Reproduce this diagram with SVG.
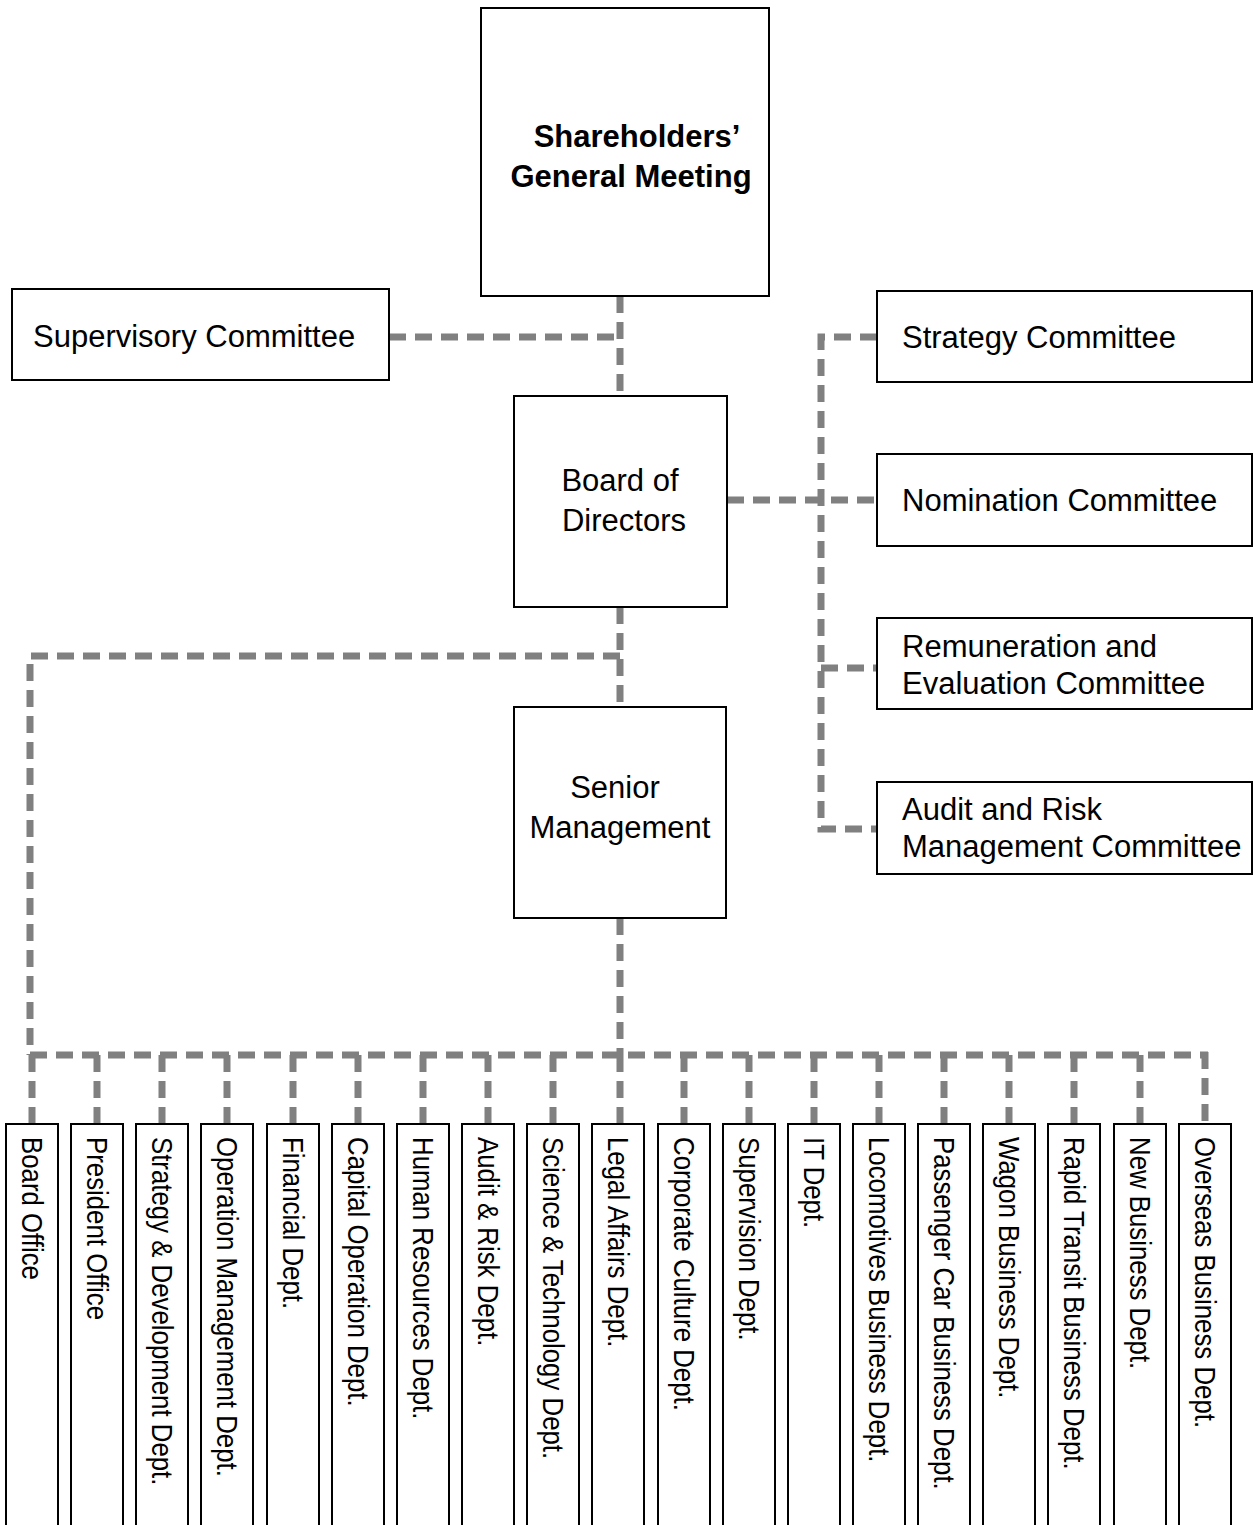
<svg xmlns="http://www.w3.org/2000/svg" width="1253" height="1525" viewBox="0 0 1253 1525">
<style>
.box{fill:#fff;stroke:#000;stroke-width:2}
.t{font-family:"Liberation Sans",Arial,sans-serif;font-size:31px;fill:#000}
.b{font-weight:bold}
.v{font-family:"Liberation Sans",Arial,sans-serif;font-size:29px;fill:#000}
.c{fill:none;stroke:#808080;stroke-width:7;stroke-dasharray:17 9}
</style>
<rect width="1253" height="1525" fill="#fff"/>
<g id="connectors">
<path class="c" d="M620,296 V396"/>
<path class="c" d="M389,337 H620"/>
<path class="c" d="M727,500 H877"/>
<path class="c" d="M877,337 H821 V829 H877"/>
<path class="c" d="M821,668 H877"/>
<path class="c" d="M620,607 V707"/>
<path class="c" d="M620,656 H30 V1055"/>
<path class="c" d="M620,918 V1055"/>
<path class="c" d="M30,1055 H1208"/>
<path class="c" d="M32,1055 V1124 M97,1055 V1124 M162,1055 V1124 M227,1055 V1124 M293,1055 V1124 M358,1055 V1124 M423,1055 V1124 M488,1055 V1124 M553,1055 V1124 M620,1055 V1124 M684,1055 V1124 M749,1055 V1124 M814,1055 V1124 M879,1055 V1124 M944,1055 V1124 M1009,1055 V1124 M1074,1055 V1124 M1140,1055 V1124 M1205,1052 V1124"/>
</g>
<g id="shareholders"><rect class="box" x="481" y="8" width="288" height="288"/>
<text class="t b" text-anchor="middle"><tspan x="637" y="147">Shareholders’</tspan><tspan x="631" y="187">General Meeting</tspan></text></g>
<g id="supervisory"><rect class="box" x="12" y="289" width="377" height="91"/>
<text class="t" x="33" y="347">Supervisory Committee</text></g>
<g id="board"><rect class="box" x="514" y="396" width="213" height="211"/>
<text class="t" text-anchor="middle"><tspan x="620" y="491">Board of</tspan><tspan x="624" y="531">Directors</tspan></text></g>
<g id="senior"><rect class="box" x="514" y="707" width="212" height="211"/>
<text class="t" text-anchor="middle"><tspan x="615" y="798">Senior</tspan><tspan x="620" y="838">Management</tspan></text></g>
<g id="strategy-committee"><rect class="box" x="877" y="291" width="375" height="91"/>
<text class="t" x="902" y="348">Strategy Committee</text></g>
<g id="nomination"><rect class="box" x="877" y="454" width="375" height="92"/>
<text class="t" x="902" y="511">Nomination Committee</text></g>
<g id="remuneration"><rect class="box" x="877" y="618" width="375" height="91"/>
<text class="t"><tspan x="902" y="657">Remuneration and</tspan><tspan x="902" y="694">Evaluation Committee</tspan></text></g>
<g id="audit-committee"><rect class="box" x="877" y="782" width="375" height="92"/>
<text class="t"><tspan x="902" y="820">Audit and Risk</tspan><tspan x="902" y="857">Management Committee</tspan></text></g>
<g id="d0"><rect class="box" x="6" y="1124" width="52" height="420"/><text class="v" transform="translate(21.5,1137) rotate(90) scale(0.89,1)">Board Office</text></g>
<g id="d1"><rect class="box" x="71" y="1124" width="52" height="420"/><text class="v" transform="translate(86.5,1137) rotate(90) scale(0.89,1)">President Office</text></g>
<g id="d2"><rect class="box" x="136" y="1124" width="52" height="420"/><text class="v" transform="translate(151.5,1137) rotate(90) scale(0.89,1)">Strategy &amp; Development Dept.</text></g>
<g id="d3"><rect class="box" x="201" y="1124" width="52" height="420"/><text class="v" transform="translate(216.5,1137) rotate(90) scale(0.89,1)">Operation Management Dept.</text></g>
<g id="d4"><rect class="box" x="267" y="1124" width="52" height="420"/><text class="v" transform="translate(282.5,1137) rotate(90) scale(0.89,1)">Financial Dept.</text></g>
<g id="d5"><rect class="box" x="332" y="1124" width="52" height="420"/><text class="v" transform="translate(347.5,1137) rotate(90) scale(0.89,1)">Capital Operation Dept.</text></g>
<g id="d6"><rect class="box" x="397" y="1124" width="52" height="420"/><text class="v" transform="translate(412.5,1137) rotate(90) scale(0.89,1)">Human Resources Dept.</text></g>
<g id="d7"><rect class="box" x="462" y="1124" width="52" height="420"/><text class="v" transform="translate(477.5,1137) rotate(90) scale(0.89,1)">Audit &amp; Risk Dept.</text></g>
<g id="d8"><rect class="box" x="527" y="1124" width="52" height="420"/><text class="v" transform="translate(542.5,1137) rotate(90) scale(0.89,1)">Science &amp; Technology Dept.</text></g>
<g id="d9"><rect class="box" x="592" y="1124" width="52" height="420"/><text class="v" transform="translate(607.5,1137) rotate(90) scale(0.89,1)">Legal Affairs Dept.</text></g>
<g id="d10"><rect class="box" x="658" y="1124" width="52" height="420"/><text class="v" transform="translate(673.5,1137) rotate(90) scale(0.89,1)">Corporate Culture Dept.</text></g>
<g id="d11"><rect class="box" x="723" y="1124" width="52" height="420"/><text class="v" transform="translate(738.5,1137) rotate(90) scale(0.89,1)">Supervision Dept.</text></g>
<g id="d12"><rect class="box" x="788" y="1124" width="52" height="420"/><text class="v" transform="translate(803.5,1137) rotate(90) scale(0.89,1)">IT Dept.</text></g>
<g id="d13"><rect class="box" x="853" y="1124" width="52" height="420"/><text class="v" transform="translate(868.5,1137) rotate(90) scale(0.89,1)">Locomotives Business Dept.</text></g>
<g id="d14"><rect class="box" x="918" y="1124" width="52" height="420"/><text class="v" transform="translate(933.5,1137) rotate(90) scale(0.89,1)">Passenger Car Business Dept.</text></g>
<g id="d15"><rect class="box" x="983" y="1124" width="52" height="420"/><text class="v" transform="translate(998.5,1137) rotate(90) scale(0.89,1)">Wagon Business Dept.</text></g>
<g id="d16"><rect class="box" x="1048" y="1124" width="52" height="420"/><text class="v" transform="translate(1063.5,1137) rotate(90) scale(0.89,1)">Rapid Transit Business Dept.</text></g>
<g id="d17"><rect class="box" x="1114" y="1124" width="52" height="420"/><text class="v" transform="translate(1129.5,1137) rotate(90) scale(0.89,1)">New Business Dept.</text></g>
<g id="d18"><rect class="box" x="1179" y="1124" width="52" height="420"/><text class="v" transform="translate(1194.5,1137) rotate(90) scale(0.89,1)">Overseas Business Dept.</text></g>
</svg>
